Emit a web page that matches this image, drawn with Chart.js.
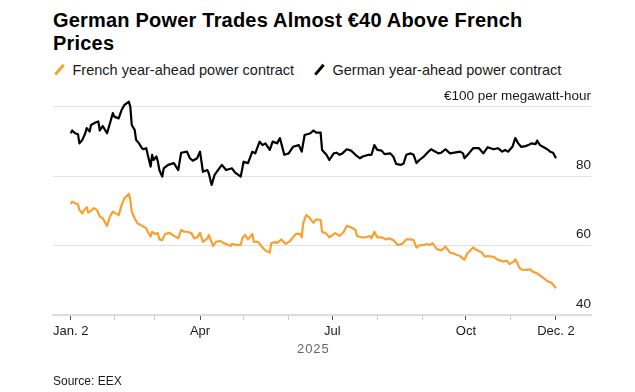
<!DOCTYPE html>
<html>
<head>
<meta charset="utf-8">
<script src="https://cdn.jsdelivr.net/npm/chart.js@4.4.1/dist/chart.umd.min.js"></script>
<style>
  html, body { margin: 0; padding: 0; background: #fff; }
  body { width: 635px; height: 392px; position: relative; overflow: hidden;
         font-family: "Liberation Sans", Arial, sans-serif; color: #000; }
  #title { position: absolute; left: 53px; top: 9px; width: 500px; font-weight: 700;
           font-size: 20px; line-height: 23px; letter-spacing: 0.2px; }
  .key { position: absolute; top: 62px; font-size: 14.5px; line-height: 17px; color: #1a1a1a; white-space: nowrap; }
  .key i { display: inline-block; width: 2.5px; height: 13px; transform: rotate(40deg);
           margin: 0 12px 0 5px; vertical-align: -1px; }
  #source { position: absolute; left: 53px; top: 374px; font-size: 12px; line-height: 14px; color: #1a1a1a; }
  canvas { position: absolute; left: 0; top: 0; }
</style>
</head>
<body>
<div id="title">German Power Trades Almost €40 Above French Prices</div>
<div class="key" style="left:53px"><i style="background:#f9a030"></i>French year-ahead power contract</div>
<div class="key" style="left:313px"><i style="background:#000"></i>German year-ahead power contract</div>
<canvas id="chart" width="635" height="392"></canvas>
<div id="source">Source: EEX</div>
<script>
// days counted from Jan. 2, 2025
const gerDays = [0,1,3,5,6,8,10,11,13,14,17,19,20,22,25,27,29,30,33,35,37,40,41,42,44,45,47,49,50,52,53,55,56,57,59,60,61,63,64,67,71,74,76,80,82,84,87,89,91,94,95,97,99,104,107,111,113,117,119,122,125,127,130,132,134,137,139,142,144,147,150,153,157,159,161,165,167,169,172,173,176,178,181,183,185,187,190,193,196,199,201,205,207,209,211,214,216,220,222,224,227,229,231,234,236,238,240,243,245,248,251,253,255,258,261,264,268,270,271,274,277,281,284,287,291,294,297,299,301,304,306,308,310,313,315,317,320,321,323,325,328,330,332,334];
const gerValues = [92.4,93.2,92.4,92.1,89.5,90.5,92.4,93.9,92.9,94.8,95.5,95.8,93.2,94.5,92.4,95.3,98.2,97.2,96.7,99.1,100.6,101.5,100.1,94.8,93.4,90.5,89.5,88.1,87.8,88.1,86.2,82.8,86.2,84.7,85.7,84.2,81.8,79.9,82.3,83.3,83.8,81.8,86.8,87.1,85.2,84.5,85.2,87.1,81.3,81.8,80.9,77.5,80.4,83.3,81.8,82.3,81.1,79.9,84.2,83.8,87.1,86.6,90.0,89.0,89.5,87.6,90.0,89.5,91.0,86.2,86.6,88.5,89.0,87.1,91.9,92.4,93.2,92.6,92.6,87.6,86.2,84.7,86.6,86.8,86.2,86.6,87.8,87.4,86.2,85.2,85.7,86.2,86.2,89.0,87.6,87.4,86.4,86.6,85.7,83.6,83.3,83.6,86.2,86.6,86.2,83.8,84.7,85.7,86.6,87.8,87.1,86.6,86.8,87.8,86.6,86.8,87.1,86.6,85.2,86.6,88.1,88.1,86.6,88.4,87.8,88.1,87.1,87.6,87.1,88.5,91.0,89.5,88.5,88.7,89.0,89.5,89.3,90.3,89.0,88.5,87.8,87.1,86.8,85.2];
const frDays = [0,1,3,5,6,8,9,11,12,14,16,18,20,22,25,27,29,31,33,35,37,40,41,42,44,46,48,50,52,53,55,56,58,60,61,63,65,68,70,72,74,76,78,80,83,85,87,89,91,94,95,98,100,103,105,107,110,111,114,117,118,120,122,125,126,129,131,134,137,138,141,142,145,148,151,153,155,158,159,160,162,164,167,169,172,173,176,178,182,185,188,190,193,196,197,200,203,206,207,209,211,214,217,219,222,225,228,231,234,236,238,240,243,245,247,249,252,255,258,261,263,266,268,271,273,275,277,279,283,285,287,291,294,298,300,302,305,306,309,311,314,316,318,321,324,327,329,331,332,334];
const frValues = [72.0,72.7,72.2,71.9,70.3,69.3,70.1,71.1,69.5,70.1,70.8,70.3,68.4,67.9,65.7,68.4,69.8,69.3,68.8,71.7,73.7,74.9,73.2,69.8,67.9,66.4,66.0,65.5,65.0,64.0,62.6,64.0,63.4,63.6,61.8,61.6,63.4,63.7,63.1,62.6,62.1,64.5,64.0,64.0,63.6,62.1,62.4,63.7,61.1,62.1,63.1,59.9,61.1,61.4,60.8,60.5,59.9,60.5,60.2,60.2,62.1,63.1,61.8,63.4,61.1,61.1,59.9,58.6,58.0,60.7,61.1,60.7,61.8,60.5,61.4,62.4,63.4,63.4,62.4,66.4,68.8,68.2,66.6,67.6,67.4,64.0,63.4,62.4,63.6,62.8,64.0,65.7,65.3,64.5,62.8,62.4,62.4,62.8,62.1,64.0,62.4,62.4,61.8,62.1,61.6,60.2,60.5,61.8,61.8,61.6,59.4,60.1,60.2,60.5,60.2,60.7,59.0,58.6,59.7,58.0,57.8,57.3,57.0,55.9,57.8,58.6,59.5,58.8,58.0,56.8,57.0,56.8,55.9,55.4,55.7,54.7,55.4,56.1,53.5,53.0,53.0,53.2,52.5,52.0,51.1,50.1,49.6,49.3,48.7,47.7];

// month ticks (first of each month, plus the first and last trading day)
const monthTicks = [0,30,58,89,119,150,180,211,242,272,303,334];
const monthLabels = ['Jan. 2','','','Apr','','','Jul','','','Oct','','Dec. 2'];
const yTicks = [40,60,80,100];
const yearLabel = '2025';

const FONT = '"Liberation Sans", Arial, sans-serif';

// year under the axis, centred on the data span
const yearPlugin = {
  id: 'yearLabel',
  afterDraw(chart) {
    const xs = chart.scales.x;
    const c = chart.ctx;
    const mid = xs.getPixelForValue((monthTicks[0] + monthTicks[monthTicks.length - 1]) / 2);
    c.save();
    c.font = '13px ' + FONT;
    c.fillStyle = '#666';
    c.textAlign = 'center';
    c.textBaseline = 'alphabetic';
    c.letterSpacing = '1px';
    c.fillText(yearLabel, mid, xs.top + 38);
    c.restore();
  }
};

const toPoints = (days, vals) => days.map((d, i) => ({x: d, y: vals[i]}));

new Chart(document.getElementById('chart').getContext('2d'), {
  type: 'line',
  data: {
    datasets: [{
      label: 'French year-ahead power contract',
      data: toPoints(frDays, frValues),
      borderColor: '#f9a030',
      borderWidth: 2.2,
      pointRadius: 0,
      borderJoinStyle: 'round'
    }, {
      label: 'German year-ahead power contract',
      data: toPoints(gerDays, gerValues),
      borderColor: '#000',
      borderWidth: 2.2,
      pointRadius: 0,
      borderJoinStyle: 'round'
    }]
  },
  options: {
    responsive: false,
    animation: false,
    layout: {padding: {left: 53, right: 44, top: 100, bottom: 37}},
    plugins: {legend: {display: false}, tooltip: {enabled: false}},
    scales: {
      x: {
        type: 'linear',
        min: -12.2,
        max: 358.1,
        afterBuildTicks: s => { s.ticks = monthTicks.map(v => ({value: v})); },
        afterFit: s => { s.height = 40; },
        grid: {
          drawOnChartArea: false,
          tickLength: 5,
          lineWidth: 1,
          color: c => monthLabels[c.index] ? '#555' : '#ccc'
        },
        border: {display: true, color: '#dcdcdc', width: 2},
        ticks: {
          autoSkip: false, maxRotation: 0, padding: 4,
          color: '#1a1a1a', font: {family: FONT, size: 13},
          callback: (v, i) => monthLabels[i]
        }
      },
      y: {
        position: 'right',
        min: 40,
        max: 102,
        afterBuildTicks: s => { s.ticks = yTicks.map(v => ({value: v})); },
        afterFit: s => { s.width = 0; },
        grid: {
          drawTicks: false,
          lineWidth: 1,
          color: c => (c.tick && c.tick.value === 40) ? 'rgba(0,0,0,0)' : '#e2e2e2'
        },
        border: {display: false},
        ticks: {
          mirror: true, padding: 0, labelOffset: -11,
          color: '#1a1a1a', font: {family: FONT, size: 13.5},
          callback: v => v === 100 ? '€100 per megawatt-hour' : v
        }
      }
    }
  },
  plugins: [yearPlugin]
});
</script>
</body>
</html>
